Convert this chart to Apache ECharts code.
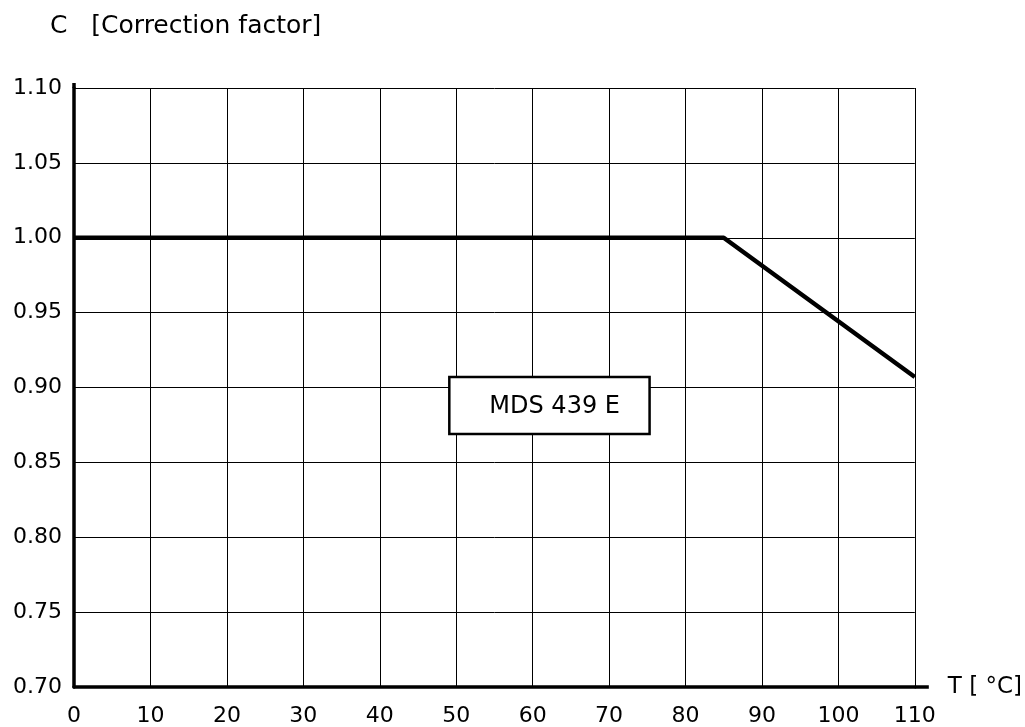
<!DOCTYPE html>
<html>
<head>
<meta charset="utf-8">
<script src="https://cdn.jsdelivr.net/npm/echarts@6/dist/echarts.min.js"></script>
<style>
  html, body { margin: 0; padding: 0; background: #fff; }
  #chart { width: 1025px; height: 727px; }
</style>
</head>
<body>
<div id="chart"></div>
<script>
// curve: temperature -> correction factor
const temps = [0, 85, 110]
const factors = [1.0, 1.0, 0.907]
const xTicks = [0, 10, 20, 30, 40, 50, 60, 70, 80, 90, 100, 110]
const yTicks = [0.70, 0.75, 0.80, 0.85, 0.90, 0.95, 1.00, 1.05, 1.10]
const boxLabel = 'MDS 439 E'
const boxCorners = [[49.1, 0.907], [75.3, 0.869]] // data coords of the label box

const font = '"DejaVu Sans", sans-serif'
let myChart = echarts.init(document.getElementById('chart'))

const option = {
    animation: false,
    backgroundColor: '#fff',
    title: {
        text: 'C   [Correction factor]',
        left: 45,
        top: 9,
        textStyle: { fontFamily: font, fontSize: 25, fontWeight: 'normal', color: '#000' }
    },
    grid: { left: 74, top: 88, width: 842, height: 600 },
    xAxis: {
        type: 'value',
        min: xTicks[0],
        max: xTicks[xTicks.length - 1],
        interval: 10,
        name: 'T [ °C]',
        nameLocation: 'end',
        nameGap: 33,
        nameTextStyle: { fontFamily: font, fontSize: 23, color: '#000', verticalAlign: 'middle' },
        axisLine: { show: true, lineStyle: { color: '#000', width: 3.5 } },
        axisTick: { show: false },
        axisLabel: { fontFamily: font, fontSize: 22, color: '#000', margin: 18 },
        splitLine: { show: true, lineStyle: { color: '#000', width: 1 } }
    },
    yAxis: {
        type: 'value',
        min: yTicks[0],
        max: yTicks[yTicks.length - 1],
        interval: 0.05,
        axisLine: { show: true, lineStyle: { color: '#000', width: 3.5 } },
        axisTick: { show: false },
        axisLabel: {
            fontFamily: font, fontSize: 22, color: '#000', margin: 12,
            formatter: v => v.toFixed(2)
        },
        splitLine: { show: true, lineStyle: { color: '#000', width: 1 } }
    },
    series: [{
        type: 'line',
        data: temps.map((t, i) => [t, factors[i]]),
        symbol: 'none',
        lineStyle: { color: '#000', width: 4.5 },
        z: 3
    }]
}
myChart.setOption(option)

// label box placed from data coords, axis line stubs from grid corners
const p1 = myChart.convertToPixel({ gridIndex: 0 }, boxCorners[0])
const p2 = myChart.convertToPixel({ gridIndex: 0 }, boxCorners[1])
const o = myChart.convertToPixel({ gridIndex: 0 }, [xTicks[0], yTicks[0]])
const xEnd = myChart.convertToPixel({ gridIndex: 0 }, [xTicks[xTicks.length - 1], yTicks[0]])
const yEnd = myChart.convertToPixel({ gridIndex: 0 }, [xTicks[0], yTicks[yTicks.length - 1]])
myChart.setOption({
    graphic: [{
        type: 'line',
        shape: { x1: xEnd[0], y1: o[1], x2: xEnd[0] + 14, y2: o[1] },
        style: { stroke: '#000', lineWidth: 3.5 }
    }, {
        type: 'line',
        shape: { x1: o[0], y1: yEnd[1], x2: o[0], y2: yEnd[1] - 5 },
        style: { stroke: '#000', lineWidth: 3.5 }
    }, {
        type: 'rect',
        shape: { x: p1[0], y: p1[1], width: p2[0] - p1[0], height: p2[1] - p1[1] },
        style: { fill: '#fff', stroke: '#000', lineWidth: 2.5 },
        z: 10
    }, {
        type: 'text',
        x: p1[0] + 40,
        y: (p1[1] + p2[1]) / 2 + 1,
        style: {
            text: boxLabel, fontFamily: font, fontSize: 24, fill: '#000',
            verticalAlign: 'middle', align: 'left'
        },
        z: 11
    }]
})
</script>
</body>
</html>
